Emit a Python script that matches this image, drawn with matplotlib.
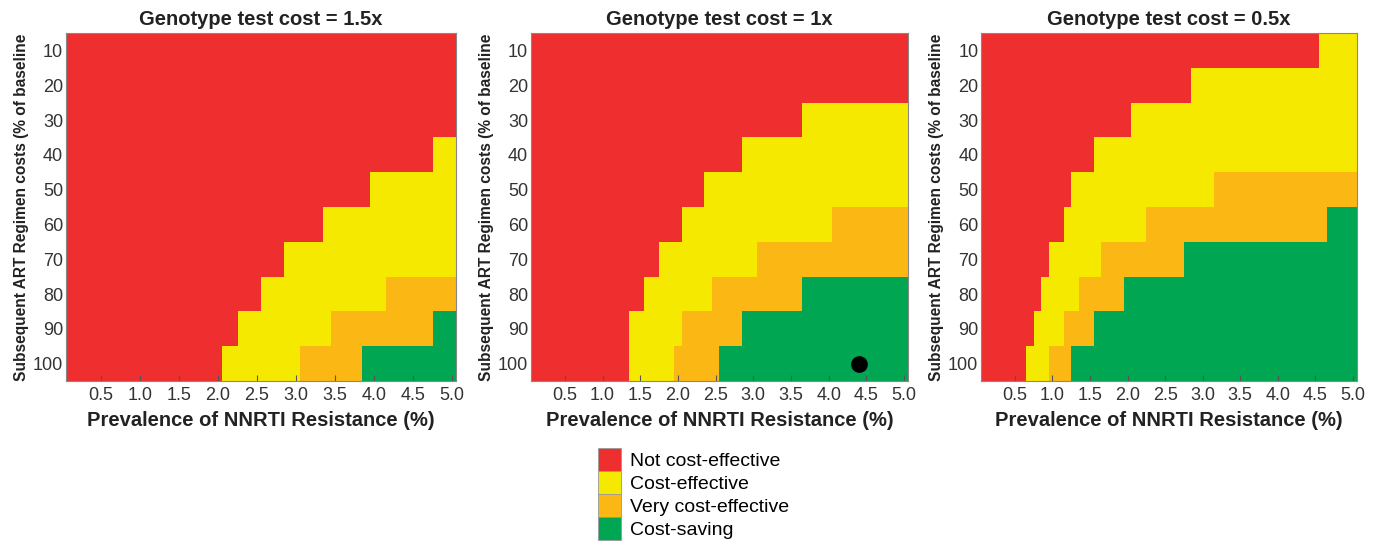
import matplotlib.pyplot as plt
from matplotlib.colors import ListedColormap
from matplotlib.patches import Patch
import numpy as np

plt.rcParams['font.family'] = ['Liberation Sans', 'DejaVu Sans']

titles = ['Genotype test cost = 1.5x', 'Genotype test cost = 1x', 'Genotype test cost = 0.5x']
art_costs = [10, 20, 30, 40, 50, 60, 70, 80, 90, 100]
prevalence = np.round(np.arange(0.1, 5.01, 0.1), 1)

# first prevalence (%) at which each row becomes cost-effective / very / saving
# (None = never inside the plotted range)
ce_15 = [None, None, None, 4.8, 4.0, 3.4, 2.9, 2.6, 2.3, 2.1]
vce_15 = [None, None, None, None, None, None, None, 4.2, 3.5, 3.1]
cs_15 = [None, None, None, None, None, None, None, None, 4.8, 3.9]

ce_10 = [None, None, 3.7, 2.9, 2.4, 2.1, 1.8, 1.6, 1.4, 1.4]
vce_10 = [None, None, None, None, None, 4.1, 3.1, 2.5, 2.1, 2.0]
cs_10 = [None, None, None, None, None, None, None, 3.7, 2.9, 2.6]

ce_05 = [4.6, 2.9, 2.1, 1.6, 1.3, 1.2, 1.0, 0.9, 0.8, 0.7]
vce_05 = [None, None, None, None, 3.2, 2.3, 1.7, 1.4, 1.2, 1.0]
cs_05 = [None, None, None, None, None, 4.7, 2.8, 2.0, 1.6, 1.3]

thresholds = [(ce_15, vce_15, cs_15), (ce_10, vce_10, cs_10), (ce_05, vce_05, cs_05)]

# base case marker (1x panel)
base_x, base_y = 4.4, 100

categories = ['Not cost-effective', 'Cost-effective', 'Very cost-effective', 'Cost-saving']
colors = ['#ee2e2f', '#f5e900', '#fbb714', '#00a651']
cmap = ListedColormap(colors)


def category_grid(ce, vce, cs):
    grid = np.zeros((len(art_costs), len(prevalence)))
    for i in range(len(art_costs)):
        for t in (ce[i], vce[i], cs[i]):
            if t is not None:
                grid[i] += prevalence >= t - 1e-9
    return grid


fig = plt.figure(figsize=(13.8, 5.41), dpi=100)
positions = [[0.0478, 0.2957, 0.2826, 0.6433],
             [0.3848, 0.2957, 0.2730, 0.6433],
             [0.7109, 0.2957, 0.2722, 0.6433]]

x_edges = np.append(prevalence - 0.05, prevalence[-1] + 0.05)
y_edges = np.append(np.array(art_costs) - 5, art_costs[-1] + 5)

for k in range(3):
    ax = fig.add_axes(positions[k])
    grid = category_grid(*thresholds[k])
    ax.pcolormesh(x_edges, y_edges, grid, cmap=cmap, vmin=-0.5, vmax=3.5)
    ax.set_xlim(x_edges[0], x_edges[-1])
    ax.set_ylim(y_edges[-1], y_edges[0])
    ax.set_xticks([0.5, 1.0, 1.5, 2.0, 2.5, 3.0, 3.5, 4.0, 4.5, 5.0])
    ax.set_xticklabels(['%.1f' % v for v in ax.get_xticks()])
    ax.set_yticks(art_costs)
    ax.tick_params(axis='x', direction='in', length=4, color='#555555',
                   labelsize=13, labelcolor='#333333', pad=4)
    ax.tick_params(axis='y', length=0, labelsize=13, labelcolor='#333333', pad=2)
    for s in ax.spines.values():
        s.set_color('#888888')
        s.set_linewidth(0.8)
    ax.set_title(titles[k], fontsize=14.5, fontweight='bold', color='#222222', pad=6)
    ax.set_xlabel('Prevalence of NNRTI Resistance (%)', fontsize=14.5,
                  fontweight='bold', color='#222222', labelpad=5)
    ax.set_ylabel('Subsequent ART Regimen costs (% of baseline', fontsize=11.2,
                  fontweight='bold', color='#222222', labelpad=3)
    if k == 1:
        ax.plot(base_x, base_y, 'o', color='black', markersize=11)

handles = [Patch(facecolor=c, edgecolor='#999999', linewidth=0.6) for c in colors]
fig.legend(handles, categories, loc='upper left', bbox_to_anchor=(0.433, 0.172),
           frameon=False, fontsize=14, labelspacing=0, handlelength=1.2,
           handleheight=1.45, handletextpad=0.45, borderpad=0, borderaxespad=0)

fig.savefig('out.png', dpi=100)
